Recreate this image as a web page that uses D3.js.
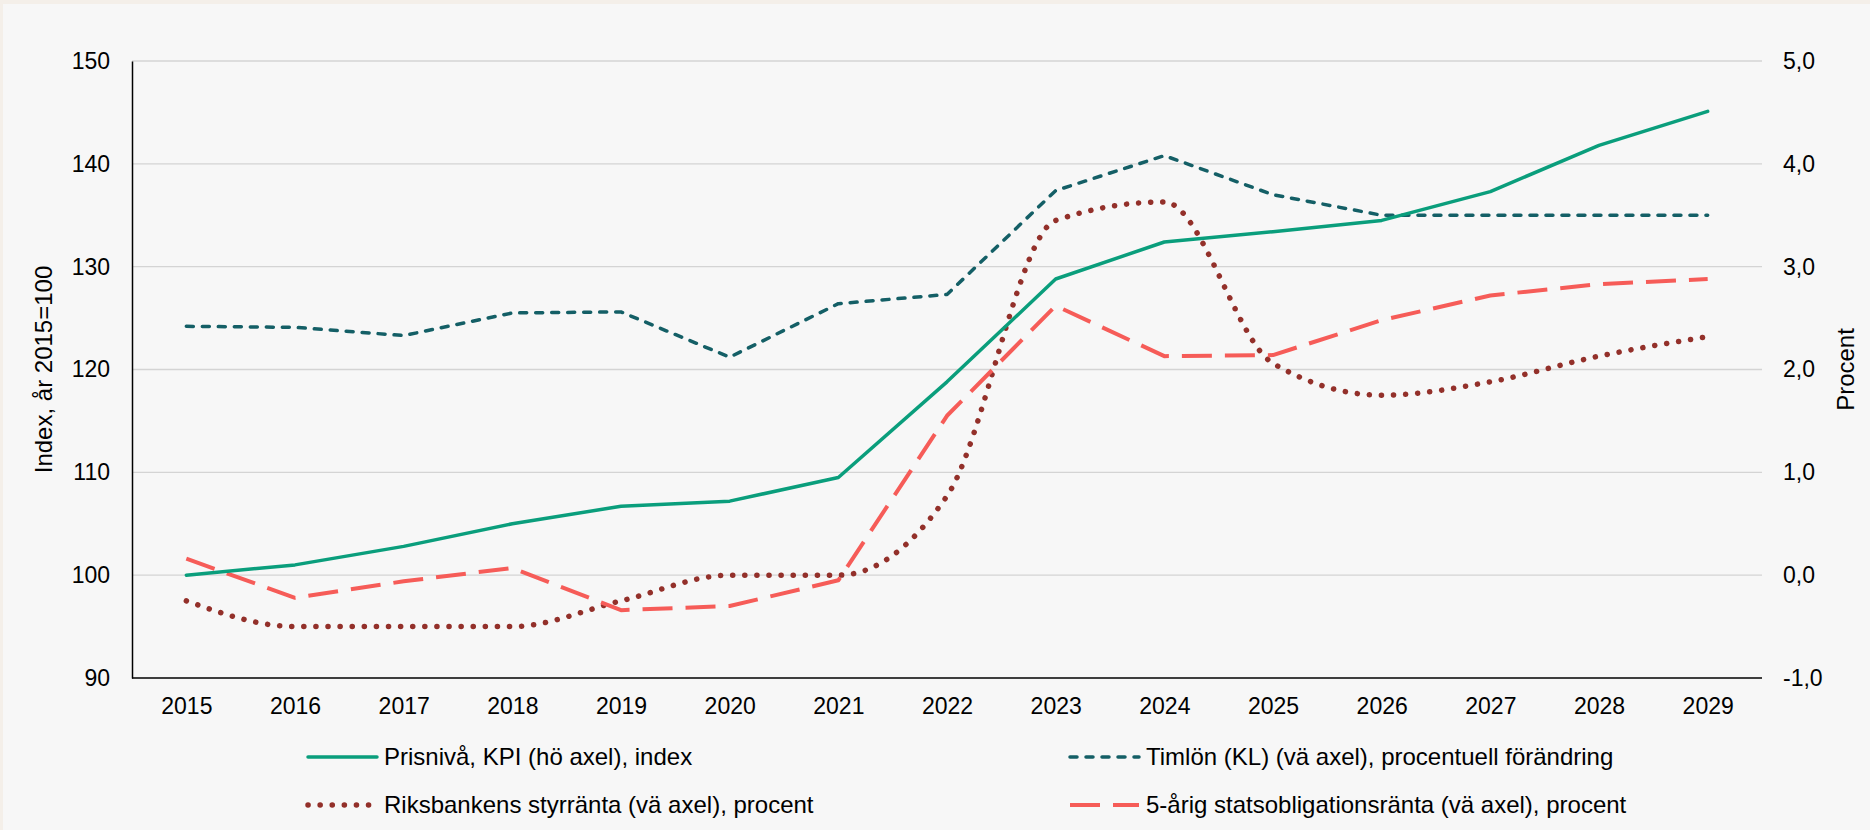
<!DOCTYPE html>
<html>
<head>
<meta charset="utf-8">
<script src="https://cdn.jsdelivr.net/npm/d3@7"></script>
<style>
  html, body { margin: 0; padding: 0; background: #f4efe9; }
  svg { display: block; font-family: "Liberation Sans", Arial, sans-serif; }
</style>
</head>
<body>
<div id="chart"></div>
<script>
const years = ["2015", "2016", "2017", "2018", "2019", "2020", "2021", "2022",
  "2023", "2024", "2025", "2026", "2027", "2028", "2029"];

// Prisnivå, KPI (index, 2015=100) - vänster skala
const kpi = [100, 101.0, 102.8, 105.0, 106.7, 107.2, 109.5, 118.8,
  128.8, 132.4, 133.4, 134.5, 137.3, 141.8, 145.1];
// Timlön (KL), procentuell förändring
const timlon = [2.42, 2.41, 2.33, 2.55, 2.56, 2.12, 2.64, 2.73,
  3.74, 4.08, 3.70, 3.50, 3.50, 3.50, 3.50];
// Riksbankens styrränta, procent
const styrranta = [-0.25, -0.5, -0.5, -0.5, -0.25, 0.0, 0.0, 0.77,
  3.45, 3.63, 2.06, 1.75, 1.88, 2.13, 2.32];
// 5-årig statsobligationsränta, procent
const obligation = [0.16, -0.22, -0.06, 0.07, -0.34, -0.30, -0.05, 1.55,
  2.62, 2.13, 2.14, 2.48, 2.72, 2.83, 2.88];

const leftTicks = [90, 100, 110, 120, 130, 140, 150];
const rightTicks = [-1, 0, 1, 2, 3, 4, 5];

const width = 1870;
const height = 830;
const plot = { left: 132, right: 1762, top: 61, bottom: 678 };

const svg = d3.select("#chart").append("svg")
  .attr("width", width)
  .attr("height", height);

// bakgrund
svg.append("rect")
  .attr("x", 3).attr("y", 4)
  .attr("width", width - 3).attr("height", height - 4)
  .attr("fill", "#f7f7f7");

const x = d3.scalePoint().domain(years).range([plot.left, plot.right]).padding(0.5);
const yLeft = d3.scaleLinear().domain([90, 150]).range([plot.bottom, plot.top]);
const yRight = d3.scaleLinear().domain([-1, 5]).range([plot.bottom, plot.top]);

// rutnät
svg.append("g")
  .selectAll("line")
  .data(leftTicks.slice(1))
  .join("line")
  .attr("x1", plot.left).attr("x2", plot.right)
  .attr("y1", d => yLeft(d)).attr("y2", d => yLeft(d))
  .attr("stroke", "#d4d4d4")
  .attr("stroke-width", 1.3);

// axlar
const gLeft = svg.append("g")
  .attr("transform", `translate(${plot.left},0)`)
  .call(d3.axisLeft(yLeft).tickValues(leftTicks).tickSize(0).tickPadding(22));
gLeft.select(".domain").attr("stroke", "#000").attr("stroke-width", 1.5);

const gRight = svg.append("g")
  .attr("transform", `translate(${plot.right},0)`)
  .call(d3.axisRight(yRight).tickValues(rightTicks).tickSize(0).tickPadding(21)
    .tickFormat(d => d.toFixed(1).replace(".", ",")));
gRight.select(".domain").remove();

const gBottom = svg.append("g")
  .attr("transform", `translate(0,${plot.bottom})`)
  .call(d3.axisBottom(x).tickSize(0).tickPadding(20));
gBottom.select(".domain").attr("stroke", "#000").attr("stroke-width", 1.5)
  .attr("d", `M${plot.left},0H${plot.right}`);

svg.selectAll(".tick text")
  .attr("font-size", 23)
  .attr("font-family", "Liberation Sans, Arial, sans-serif")
  .attr("fill", "#000");

// axeltitlar
svg.append("text")
  .attr("transform", `translate(52,${(plot.top + plot.bottom) / 2}) rotate(-90)`)
  .attr("text-anchor", "middle")
  .attr("font-size", 24)
  .text("Index, år 2015=100");

svg.append("text")
  .attr("transform", `translate(1854,${(plot.top + plot.bottom) / 2}) rotate(-90)`)
  .attr("text-anchor", "middle")
  .attr("font-size", 24)
  .text("Procent");

// serier
const series = [
  { name: "Prisnivå, KPI (hö axel), index", values: kpi, scale: yLeft,
    color: "#0a9e7c", width: 3.5, dash: null, cap: "round", curve: d3.curveLinear,
    legend: [308, 757] },
  { name: "Timlön (KL) (vä axel), procentuell förändring", values: timlon, scale: yRight,
    color: "#145f66", width: 3.5, dash: "7 9", cap: "round", curve: d3.curveLinear,
    legend: [1070, 757] },
  { name: "Riksbankens styrränta (vä axel), procent", values: styrranta, scale: yRight,
    color: "#93302a", width: 5.5, dash: "0.1 12", cap: "round", curve: d3.curveMonotoneX,
    legend: [308, 805] },
  { name: "5-årig statsobligationsränta (vä axel), procent", values: obligation, scale: yRight,
    color: "#f65c58", width: 4, dash: "30 13", cap: "butt", curve: d3.curveLinear,
    legend: [1070, 805] }
];

const drawOrder = [series[2], series[3], series[1], series[0]];

drawOrder.forEach(s => {
  const line = d3.line()
    .x((d, i) => x(years[i]))
    .y(d => s.scale(d))
    .curve(s.curve);
  svg.append("path")
    .datum(s.values)
    .attr("d", line)
    .attr("fill", "none")
    .attr("stroke", s.color)
    .attr("stroke-width", s.width)
    .attr("stroke-linecap", s.cap)
    .attr("stroke-linejoin", "round")
    .attr("stroke-dasharray", s.dash);
});

// teckenförklaring
const legend = svg.append("g");
series.forEach(s => {
  const [lx, ly] = s.legend;
  legend.append("line")
    .attr("x1", lx).attr("x2", lx + 69)
    .attr("y1", ly).attr("y2", ly)
    .attr("stroke", s.color)
    .attr("stroke-width", s.width)
    .attr("stroke-linecap", s.cap)
    .attr("stroke-dasharray", s.dash);
  legend.append("text")
    .attr("x", lx + 76)
    .attr("y", ly)
    .attr("dy", "0.35em")
    .attr("font-size", 24)
    .attr("fill", "#000")
    .text(s.name);
});
</script>
</body>
</html>
